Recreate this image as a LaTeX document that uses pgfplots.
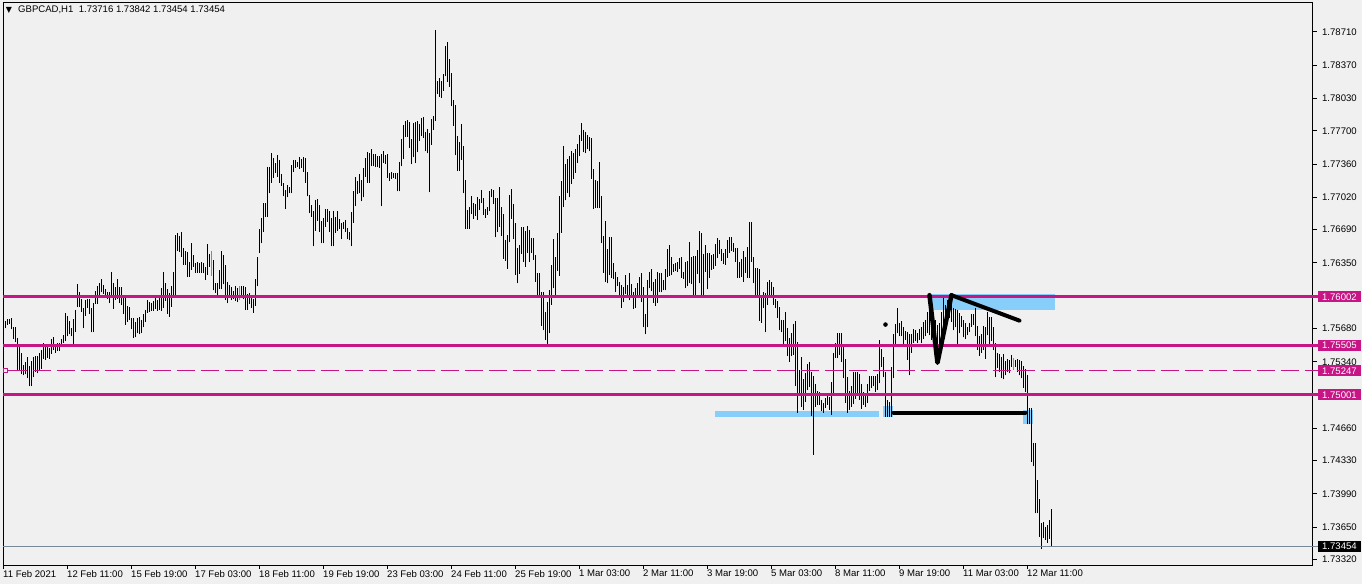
\documentclass[border=0pt]{standalone}
\usepackage{fontspec}
\setmainfont{Liberation Sans}
\newfontfamily\djv{DejaVu Sans}
\usepackage{pgfplots}
\usepackage{pgfplotstable}
\pgfplotsset{compat=1.18}
\definecolor{bgcol}{RGB}{240,240,240}
\definecolor{magcol}{RGB}{199,21,133}
\definecolor{sky}{RGB}{135,206,250}
\definecolor{bidcol}{RGB}{119,136,153}
\definecolor{grn}{RGB}{0,230,0}
\pgfplotstableread{
k lo hi
0 1.7563 1.7573
1 1.7568 1.7576
2 1.7572 1.7578
3 1.7573 1.7578
4 1.7567 1.7579
5 1.7557 1.7569
6 1.7554 1.7569
7 1.7525 1.7558
8 1.7525 1.7549
9 1.7521 1.7543
10 1.7520 1.7531
11 1.7521 1.7534
12 1.7517 1.7539
13 1.7509 1.7530
14 1.7509 1.7535
15 1.7518 1.7539
16 1.7524 1.7540
17 1.7522 1.7540
18 1.7526 1.7543
19 1.7527 1.7546
20 1.7537 1.7553
21 1.7536 1.7550
22 1.7538 1.7549
23 1.7537 1.7548
24 1.7542 1.7557
25 1.7546 1.7559
26 1.7543 1.7552
27 1.7545 1.7553
28 1.7545 1.7553
29 1.7551 1.7557
30 1.7553 1.7561
31 1.7555 1.7584
32 1.7560 1.7581
33 1.7562 1.7576
34 1.7560 1.7568
35 1.7552 1.7578
36 1.7564 1.7587
37 1.7590 1.7613
38 1.7590 1.7605
39 1.7585 1.7598
40 1.7568 1.7589
41 1.7581 1.7597
42 1.7589 1.7598
43 1.7583 1.7598
44 1.7564 1.7589
45 1.7564 1.7594
46 1.7593 1.7606
47 1.7593 1.7611
48 1.7601 1.7614
49 1.7605 1.7619
50 1.7603 1.7612
51 1.7601 1.7608
52 1.7598 1.7605
53 1.7594 1.7605
54 1.7600 1.7626
55 1.7588 1.7614
56 1.7597 1.7610
57 1.7598 1.7619
58 1.7594 1.7610
59 1.7592 1.7610
60 1.7583 1.7600
61 1.7572 1.7599
62 1.7575 1.7591
63 1.7577 1.7590
64 1.7567 1.7579
65 1.7558 1.7579
66 1.7559 1.7575
67 1.7563 1.7579
68 1.7562 1.7580
69 1.7563 1.7577
70 1.7569 1.7583
71 1.7575 1.7587
72 1.7584 1.7597
73 1.7585 1.7595
74 1.7586 1.7594
75 1.7586 1.7596
76 1.7588 1.7602
77 1.7586 1.7597
78 1.7587 1.7602
79 1.7586 1.7609
80 1.7589 1.7626
81 1.7596 1.7614
82 1.7583 1.7608
83 1.7580 1.7604
84 1.7590 1.7611
85 1.7600 1.7626
86 1.7601 1.7664
87 1.7647 1.7666
88 1.7646 1.7663
89 1.7641 1.7667
90 1.7633 1.7650
91 1.7633 1.7647
92 1.7621 1.7646
93 1.7621 1.7636
94 1.7628 1.7655
95 1.7631 1.7643
96 1.7625 1.7635
97 1.7625 1.7636
98 1.7625 1.7635
99 1.7625 1.7636
100 1.7625 1.7635
101 1.7618 1.7631
102 1.7623 1.7654
103 1.7631 1.7644
105 1.7607 1.7638
106 1.7604 1.7614
107 1.7600 1.7614
108 1.7608 1.7628
109 1.7608 1.7647
110 1.7613 1.7643
111 1.7597 1.7633
112 1.7594 1.7615
113 1.7600 1.7612
114 1.7597 1.7610
115 1.7598 1.7606
116 1.7596 1.7611
117 1.7595 1.7609
119 1.7600 1.7611
120 1.7598 1.7611
121 1.7587 1.7610
122 1.7587 1.7603
123 1.7593 1.7604
124 1.7589 1.7600
125 1.7584 1.7598
126 1.7591 1.7619
127 1.7611 1.7641
128 1.7645 1.7670
129 1.7655 1.7681
130 1.7667 1.7696
131 1.7682 1.7696
132 1.7682 1.7733
133 1.7706 1.7733
134 1.7717 1.7747
135 1.7722 1.7742
136 1.7727 1.7737
137 1.7723 1.7745
138 1.7717 1.7740
139 1.7714 1.7726
140 1.7703 1.7717
141 1.7690 1.7710
142 1.7702 1.7715
143 1.7706 1.7713
144 1.7706 1.7735
145 1.7728 1.7740
146 1.7732 1.7740
147 1.7733 1.7738
148 1.7731 1.7743
149 1.7732 1.7741
150 1.7728 1.7743
151 1.7717 1.7742
152 1.7703 1.7728
153 1.7686 1.7704
154 1.7682 1.7694
155 1.7652 1.7688
156 1.7668 1.7699
157 1.7678 1.7700
158 1.7667 1.7694
159 1.7655 1.7678
160 1.7655 1.7681
161 1.7672 1.7690
162 1.7677 1.7690
163 1.7667 1.7688
164 1.7652 1.7681
165 1.7652 1.7688
166 1.7666 1.7682
167 1.7668 1.7688
168 1.7670 1.7680
169 1.7659 1.7676
170 1.7670 1.7677
171 1.7667 1.7679
172 1.7659 1.7671
173 1.7658 1.7667
174 1.7652 1.7687
175 1.7676 1.7708
176 1.7693 1.7723
177 1.7705 1.7719
178 1.7706 1.7726
179 1.7698 1.7720
180 1.7702 1.7732
181 1.7723 1.7742
182 1.7717 1.7748
183 1.7717 1.7747
184 1.7734 1.7751
185 1.7734 1.7746
186 1.7733 1.7746
187 1.7733 1.7744
188 1.7732 1.7744
189 1.7693 1.7746
190 1.7737 1.7749
191 1.7736 1.7745
192 1.7722 1.7746
193 1.7719 1.7727
194 1.7721 1.7728
195 1.7722 1.7727
196 1.7721 1.7727
197 1.7708 1.7727
198 1.7708 1.7738
199 1.7734 1.7762
200 1.7741 1.7776
201 1.7764 1.7780
202 1.7764 1.7781
203 1.7752 1.7779
204 1.7736 1.7762
205 1.7743 1.7778
206 1.7737 1.7779
207 1.7748 1.7780
208 1.7760 1.7777
209 1.7765 1.7783
210 1.7763 1.7784
211 1.7749 1.7769
212 1.7747 1.7772
213 1.7707 1.7768
214 1.7756 1.7782
215 1.7771 1.7785
216 1.7780 1.7873
217 1.7808 1.7821
218 1.7805 1.7824
219 1.7804 1.7821
220 1.7811 1.7828
221 1.7826 1.7857
222 1.7820 1.7861
223 1.7815 1.7843
224 1.7795 1.7829
225 1.7775 1.7802
226 1.7745 1.7796
227 1.7729 1.7765
228 1.7729 1.7759
229 1.7740 1.7777
230 1.7706 1.7754
231 1.7670 1.7720
232 1.7670 1.7689
233 1.7670 1.7692
234 1.7685 1.7703
235 1.7680 1.7696
236 1.7683 1.7695
237 1.7679 1.7702
238 1.7689 1.7700
239 1.7696 1.7710
240 1.7684 1.7701
241 1.7681 1.7690
242 1.7684 1.7692
243 1.7688 1.7708
244 1.7702 1.7711
245 1.7695 1.7710
246 1.7661 1.7701
247 1.7667 1.7701
248 1.7672 1.7713
249 1.7662 1.7692
250 1.7639 1.7685
251 1.7637 1.7658
252 1.7629 1.7664
253 1.7656 1.7704
254 1.7680 1.7711
255 1.7659 1.7695
256 1.7623 1.7676
257 1.7614 1.7650
258 1.7624 1.7653
259 1.7644 1.7672
260 1.7636 1.7672
261 1.7631 1.7668
262 1.7645 1.7673
263 1.7636 1.7669
264 1.7645 1.7660
265 1.7638 1.7660
266 1.7616 1.7643
267 1.7601 1.7625
268 1.7600 1.7625
269 1.7571 1.7605
270 1.7566 1.7605
271 1.7556 1.7585
272 1.7551 1.7595
273 1.7563 1.7607
274 1.7592 1.7633
275 1.7609 1.7659
276 1.7602 1.7641
277 1.7627 1.7666
278 1.7622 1.7703
279 1.7666 1.7719
280 1.7692 1.7754
281 1.7699 1.7736
282 1.7706 1.7741
283 1.7702 1.7744
284 1.7716 1.7749
285 1.7721 1.7747
286 1.7727 1.7751
287 1.7737 1.7757
288 1.7744 1.7766
289 1.7760 1.7778
290 1.7748 1.7771
291 1.7747 1.7769
292 1.7751 1.7766
293 1.7749 1.7764
294 1.7721 1.7763
295 1.7690 1.7731
296 1.7691 1.7720
297 1.7691 1.7719
298 1.7691 1.7738
299 1.7655 1.7703
300 1.7625 1.7663
301 1.7616 1.7678
302 1.7614 1.7649
303 1.7623 1.7661
304 1.7620 1.7661
305 1.7619 1.7635
306 1.7605 1.7626
307 1.7611 1.7621
308 1.7599 1.7616
309 1.7589 1.7612
310 1.7595 1.7610
311 1.7603 1.7623
312 1.7600 1.7612
313 1.7597 1.7625
314 1.7599 1.7613
315 1.7588 1.7605
316 1.7589 1.7609
317 1.7599 1.7614
318 1.7600 1.7621
319 1.7595 1.7625
320 1.7569 1.7610
321 1.7562 1.7583
322 1.7569 1.7618
323 1.7609 1.7626
324 1.7606 1.7629
325 1.7594 1.7616
326 1.7591 1.7619
327 1.7594 1.7626
328 1.7605 1.7625
329 1.7605 1.7625
330 1.7607 1.7618
331 1.7607 1.7629
332 1.7621 1.7649
333 1.7622 1.7653
334 1.7623 1.7641
335 1.7626 1.7634
336 1.7627 1.7635
337 1.7626 1.7636
338 1.7629 1.7640
339 1.7620 1.7641
340 1.7619 1.7626
341 1.7609 1.7636
342 1.7611 1.7637
343 1.7614 1.7656
344 1.7613 1.7641
345 1.7600 1.7642
346 1.7601 1.7642
347 1.7624 1.7648
348 1.7614 1.7668
349 1.7600 1.7666
350 1.7600 1.7644
351 1.7626 1.7653
352 1.7608 1.7645
353 1.7620 1.7645
354 1.7628 1.7643
355 1.7629 1.7644
356 1.7632 1.7654
357 1.7640 1.7660
358 1.7644 1.7658
359 1.7637 1.7649
360 1.7634 1.7645
361 1.7633 1.7649
362 1.7640 1.7658
363 1.7645 1.7661
364 1.7647 1.7661
365 1.7646 1.7655
366 1.7636 1.7650
367 1.7620 1.7650
368 1.7620 1.7636
369 1.7621 1.7639
370 1.7616 1.7647
371 1.7625 1.7641
372 1.7620 1.7651
373 1.7620 1.7677
374 1.7636 1.7677
375 1.7614 1.7641
376 1.7602 1.7630
377 1.7602 1.7630
378 1.7576 1.7629
379 1.7574 1.7602
380 1.7589 1.7605
381 1.7564 1.7604
382 1.7592 1.7616
383 1.7600 1.7618
384 1.7601 1.7616
385 1.7592 1.7610
386 1.7589 1.7598
387 1.7579 1.7596
388 1.7566 1.7590
389 1.7564 1.7577
390 1.7551 1.7577
391 1.7555 1.7585
392 1.7540 1.7568
393 1.7534 1.7558
394 1.7540 1.7563
395 1.7541 1.7573
396 1.7509 1.7576
397 1.7482 1.7554
398 1.7499 1.7526
399 1.7488 1.7539
400 1.7485 1.7516
401 1.7493 1.7522
402 1.7505 1.7532
403 1.7508 1.7534
404 1.7479 1.7524
405 1.7439 1.7519
406 1.7488 1.7511
407 1.7490 1.7504
408 1.7490 1.7503
409 1.7484 1.7495
410 1.7482 1.7492
411 1.7487 1.7497
412 1.7490 1.7502
413 1.7485 1.7498
414 1.7480 1.7513
415 1.7500 1.7543
416 1.7538 1.7553
417 1.7538 1.7563
418 1.7541 1.7563
419 1.7534 1.7563
420 1.7517 1.7552
421 1.7492 1.7537
422 1.7482 1.7518
423 1.7485 1.7504
424 1.7488 1.7509
425 1.7491 1.7524
426 1.7496 1.7524
427 1.7500 1.7524
428 1.7495 1.7521
429 1.7486 1.7511
430 1.7490 1.7503
431 1.7488 1.7502
432 1.7492 1.7511
433 1.7504 1.7519
434 1.7507 1.7519
435 1.7509 1.7519
436 1.7503 1.7519
437 1.7505 1.7521
438 1.7512 1.7556
439 1.7529 1.7547
440 1.7518 1.7539
441 1.7478 1.7524
442 1.7478 1.7495
443 1.7478 1.7493
444 1.7478 1.7529
445 1.7517 1.7562
446 1.7549 1.7573
447 1.7563 1.7589
448 1.7560 1.7574
449 1.7560 1.7576
450 1.7551 1.7569
451 1.7556 1.7565
452 1.7536 1.7564
453 1.7520 1.7562
454 1.7543 1.7562
455 1.7553 1.7567
456 1.7555 1.7566
457 1.7553 1.7563
458 1.7556 1.7567
459 1.7553 1.7569
460 1.7557 1.7575
461 1.7560 1.7577
462 1.7563 1.7585
463 1.7561 1.7587
464 1.7556 1.7592
465 1.7551 1.7582
466 1.7546 1.7577
467 1.7544 1.7572
468 1.7544 1.7574
469 1.7551 1.7585
470 1.7558 1.7599
471 1.7566 1.7592
472 1.7577 1.7597
473 1.7579 1.7599
474 1.7575 1.7595
475 1.7566 1.7589
476 1.7569 1.7588
477 1.7551 1.7587
478 1.7563 1.7584
479 1.7570 1.7581
480 1.7559 1.7577
481 1.7557 1.7574
482 1.7561 1.7569
483 1.7564 1.7574
484 1.7570 1.7583
485 1.7572 1.7583
486 1.7560 1.7589
487 1.7546 1.7571
488 1.7540 1.7560
489 1.7543 1.7562
490 1.7546 1.7571
491 1.7537 1.7570
492 1.7561 1.7585
493 1.7552 1.7580
494 1.7555 1.7580
495 1.7546 1.7570
496 1.7518 1.7553
497 1.7528 1.7543
498 1.7524 1.7542
499 1.7517 1.7539
500 1.7516 1.7542
501 1.7520 1.7535
502 1.7524 1.7537
503 1.7522 1.7536
504 1.7529 1.7541
506 1.7529 1.7536
507 1.7524 1.7537
508 1.7520 1.7536
509 1.7517 1.7535
510 1.7507 1.7530
511 1.7503 1.7527
512 1.7470 1.7520
513 1.7470 1.7487
514 1.7432 1.7487
515 1.7427 1.7451
516 1.7379 1.7451
517 1.7379 1.7413
518 1.7355 1.7394
519 1.7343 1.7369
520 1.7354 1.7370
521 1.7352 1.7365
522 1.7349 1.7367
523 1.7353 1.7372
524 1.7345 1.7384
}\bars
\pgfplotstableread{
k lo hi
104 1.7622 1.7647
118 1.7597 1.7611
505 1.7526 1.7538
}\greenbars
\begin{document}
\begin{tikzpicture}
\useasboundingbox (-3bp,-19bp) rectangle (1359bp,565bp);
\fill[bgcol] (-3bp,-19bp) rectangle (1359bp,565bp);
\begin{axis}[
  at={(0,0)}, anchor=south west,
  scale only axis, width=1310bp, height=562bp,
  xmin=-0.25, xmax=654.75,
  ymin=1.732627, ymax=1.790063,
  clip=false,
  axis line style={black, line width=1bp},
  tick style={black, line width=1bp},
  tick align=outside,
  major tick length=4bp,
  xtick pos=left, xticklabel pos=left,
  ytick pos=right, yticklabel pos=right,
  xtick={0,32,64,96,128,160,192,224,256,288,320,352,384,416,448,480,512},
  xticklabels={11 Feb 2021,12 Feb 11:00,15 Feb 19:00,17 Feb 03:00,18 Feb 11:00,19 Feb 19:00,23 Feb 03:00,24 Feb 11:00,25 Feb 19:00,1 Mar 03:00,2 Mar 11:00,3 Mar 19:00,5 Mar 03:00,8 Mar 11:00,9 Mar 19:00,11 Mar 03:00,12 Mar 11:00},
  ytick={1.73320,1.73650,1.73990,1.74330,1.74660,1.75340,1.75680,1.76350,1.76690,1.77020,1.77360,1.77700,1.78030,1.78370,1.78710},
  yticklabels={1.73320,1.73650,1.73990,1.74330,1.74660,1.75340,1.75680,1.76350,1.76690,1.77020,1.77360,1.77700,1.78030,1.78370,1.78710},
  tick label style={font=\fontsize{9.6}{11}\selectfont, text=black},
  xticklabel style={anchor=north west, inner sep=0pt, xshift=-0.5bp, yshift=-1bp},
  yticklabel style={anchor=west, inner sep=0pt, xshift=5bp},
]
% rectangles (background objects)
\addplot[fill=sky, draw=none, forget plot] coordinates {(356,1.7478) (438,1.7478) (438,1.7484) (356,1.7484)} -- cycle;
\addplot[fill=sky, draw=none, forget plot] coordinates {(440,1.7478) (445,1.7478) (445,1.7489) (440,1.7489)} -- cycle;
\addplot[fill=sky, draw=none, forget plot] coordinates {(463.5,1.7587) (526,1.7587) (526,1.7603) (463.5,1.7603)} -- cycle;
\addplot[fill=sky, draw=none, forget plot] coordinates {(510,1.7470) (515,1.7470) (515,1.7485) (510,1.7485)} -- cycle;
% price bars
\addplot[draw=none, mark=none, forget plot,
  error bars/.cd, y dir=plus, y explicit, error mark=none,
  error bar style={draw=black, line width=1.1bp, solid}]
  table[x=k, y=lo, y error expr=\thisrow{hi}-\thisrow{lo}] {\bars};
\addplot[draw=none, mark=none, forget plot,
  error bars/.cd, y dir=plus, y explicit, error mark=none,
  error bar style={draw=grn, line width=1.1bp, solid}]
  table[x=k, y=lo, y error expr=\thisrow{hi}-\thisrow{lo}] {\greenbars};
% horizontal levels
\addplot[magcol, line width=3bp, forget plot] coordinates {(-0.25,1.76002) (657.25,1.76002)};
\addplot[magcol, line width=3bp, forget plot] coordinates {(-0.25,1.75505) (657.25,1.75505)};
\addplot[magcol, line width=3bp, forget plot] coordinates {(-0.25,1.75001) (657.25,1.75001)};
\addplot[magcol, line width=1bp, dash pattern=on 18bp off 6bp, forget plot] coordinates {(2.5,1.75247) (657.25,1.75247)};
\addplot[only marks, mark=square*, mark size=2bp, mark options={draw=magcol, fill=bgcol, line width=1bp}, forget plot] coordinates {(1,1.75247)};
\addplot[bidcol, line width=1bp, forget plot] coordinates {(-0.25,1.73454) (657.25,1.73454)};
% trend lines drawn on the chart
\addplot[black, line width=4.5bp, line cap=round, line join=round, forget plot] coordinates {(463,1.7602) (467,1.7533) (474,1.7602)};
\addplot[black, line width=4bp, line cap=round, forget plot] coordinates {(474,1.7602) (508,1.7576)};
\addplot[black, line width=4bp, line cap=round, forget plot] coordinates {(445,1.7482) (511,1.7482)};
\addplot[only marks, mark=*, mark size=2bp, black, forget plot] coordinates {(441,1.7572)};
% price labels on the right
\node[fill=magcol, text=white, anchor=west, inner xsep=4bp, inner ysep=0pt, minimum height=11bp, font=\fontsize{9.6}{11}\selectfont, xshift=5bp] at (axis cs:654.75,1.76002) {1.76002};
\node[fill=magcol, text=white, anchor=west, inner xsep=4bp, inner ysep=0pt, minimum height=11bp, font=\fontsize{9.6}{11}\selectfont, xshift=5bp] at (axis cs:654.75,1.75505) {1.75505};
\node[fill=magcol, text=white, anchor=west, inner xsep=4bp, inner ysep=0pt, minimum height=11bp, font=\fontsize{9.6}{11}\selectfont, xshift=5bp] at (axis cs:654.75,1.75247) {1.75247};
\node[fill=magcol, text=white, anchor=west, inner xsep=4bp, inner ysep=0pt, minimum height=11bp, font=\fontsize{9.6}{11}\selectfont, xshift=5bp] at (axis cs:654.75,1.75001) {1.75001};
\node[fill=black, text=white, anchor=west, inner xsep=4bp, inner ysep=0pt, minimum height=11bp, font=\fontsize{9.6}{11}\selectfont, xshift=5bp] at (axis cs:654.75,1.73454) {1.73454};
% title
\node[anchor=center, inner sep=0pt, font=\djv\fontsize{8}{9}\selectfont] at (rel axis cs:0,1) [xshift=6bp, yshift=-7bp] {▼};
\node[anchor=west, inner sep=0pt, font=\fontsize{9.6}{11}\selectfont] at (rel axis cs:0,1) [xshift=15bp, yshift=-7bp] {GBPCAD,H1\ \ 1.73716 1.73842 1.73454 1.73454};
\end{axis}
\end{tikzpicture}
\end{document}
